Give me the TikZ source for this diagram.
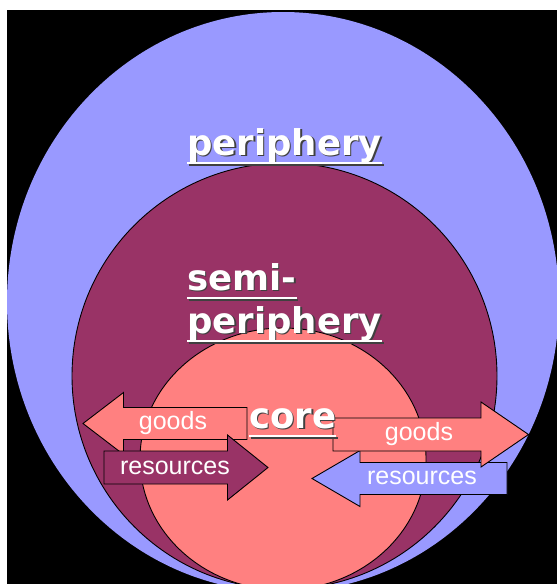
\documentclass[tikz,border=0pt]{standalone}
\usepackage{fontspec}
\setmainfont{Liberation Sans}
\newfontfamily\titlefont{DejaVu Sans}
\definecolor{periphblue}{HTML}{9999FF}
\definecolor{semipurple}{HTML}{993366}
\definecolor{coresalmon}{HTML}{FF8080}
\newcommand{\ArrowShape}[7]{%
  \draw[arrowshape,fill=#1] (#2,#5-#6) -- (#3,#5-#6) -- (#3,#5-#7) -- (#4,#5)
    -- (#3,#5+#7) -- (#3,#5+#6) -- (#2,#5+#6) -- cycle;}
\newcommand{\ShadowTitle}[4]{%
  \node[titletext,text=black!75] (#1-s) at (#2+1.6,#3+1.6) {#4};
  \node[titletext,text=white] (#1) at (#2,#3) {#4};
  \draw[ulshadow] ([xshift=1.6pt,yshift=-9.6pt]#1.base west) -- ([xshift=1.6pt,yshift=-9.6pt]#1.base east);
  \draw[ulwhite] ([yshift=-8pt]#1.base west) -- ([yshift=-8pt]#1.base east);}
\tikzset{
  ring/.style={draw=black,line width=0.9pt},
  arrowshape/.style={draw=black,line width=0.9pt,line join=miter},
  titletext/.style={anchor=base west,inner sep=0pt,font=\titlefont\bfseries\fontsize{35.5}{40}\selectfont},
  arrowtext/.style={inner sep=0pt,text=white,font=\fontsize{25}{28}\selectfont},
  ulwhite/.style={draw=white,line width=2pt},
  ulshadow/.style={draw=black!75,line width=2pt}
}
\begin{document}
\begin{tikzpicture}[x=1pt,y=-1pt]
\useasboundingbox (0,0) rectangle (557,584);
\fill[white] (0,0) rectangle (557,584);
\fill[black] (7,10) rectangle (557,584);
\begin{scope}
  \clip (7,10) rectangle (557,584);
  \fill[periphblue] (283,302) ellipse [x radius=276, y radius=290];
  \filldraw[ring,fill=semipurple] (284.5,376) ellipse [x radius=212.5, y radius=213];
  \filldraw[ring,fill=coresalmon] (283,459) ellipse [x radius=143, y radius=131];
\end{scope}
% left side arrows
\ArrowShape{coresalmon}{247}{123.5}{83}{423.5}{16}{31}
\node[arrowtext] (goodsL) at (173,423) {goods};
\ArrowShape{semipurple}{104}{227.5}{268}{467.5}{16.5}{32.5}
\node[arrowtext] (resL) at (175,467.5) {resources};
% right side arrows
\ArrowShape{periphblue}{507}{360}{312}{478.5}{16}{28}
\node[arrowtext] (resR) at (422,478) {resources};
\ArrowShape{coresalmon}{333}{481}{528.5}{434.5}{16.5}{32.5}
\node[arrowtext] (goodsR) at (419,434.5) {goods};
% titles
\ShadowTitle{per}{187}{155}{periphery}
\ShadowTitle{semi}{187}{290}{semi-}
\ShadowTitle{semiper}{187}{333}{periphery}
\ShadowTitle{core}{249}{428}{core}
\end{tikzpicture}
\end{document}
